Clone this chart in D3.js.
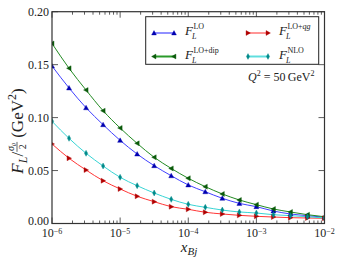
<!DOCTYPE html>
<html><head><meta charset="utf-8">
<script src="https://cdn.jsdelivr.net/npm/d3@7"></script>
<style>
body{margin:0;background:#fff;}
svg{display:block;font-family:"Liberation Serif","DejaVu Serif",serif;}
</style></head><body>
<svg id="c" width="344" height="258"></svg>
<script>
// x values: log10(x_Bj) every quarter decade from -6 to -2
const logX = [-6,-5.75,-5.5,-5.25,-5,-4.75,-4.5,-4.25,-4,-3.75,-3.5,-3.25,-3,-2.75,-2.5,-2.25,-2];
const fLO    = [0.1487,0.128,0.1093,0.0933,0.0785,0.0656,0.0546,0.0451,0.0364,0.0300,0.0238,0.0190,0.0159,0.0118,0.0090,0.0074,0.0059];
const fLOdip = [0.170,0.1466,0.126,0.1065,0.0902,0.0757,0.0625,0.052,0.0427,0.0348,0.0279,0.0222,0.0178,0.0137,0.0109,0.0083,0.0064];
const fLOqq  = [0.0751,0.0616,0.0505,0.0404,0.0326,0.0257,0.0206,0.0159,0.0134,0.0106,0.0090,0.0077,0.0068,0.0061,0.0055,0.0052,0.0049];
const fNLO   = [0.0965,0.0804,0.0663,0.0543,0.0436,0.0357,0.0288,0.0228,0.0181,0.0153,0.0127,0.0109,0.0099,0.0083,0.0074,0.0064,0.0052];
const yTicks = [0.00,0.05,0.10,0.15,0.20];
const xTickExps = [-6,-5,-4,-3,-2];

const svg = d3.select("#c");
const L=52, R=324.5, T=11.7, B=223.5;
const x = d3.scaleLog().domain([1e-6,1e-2]).range([L,R]);
const y = d3.scaleLinear().domain([0,0.2]).range([B,T]);

const series = [
  {v:fLO, line:"#4040ff", mk:"#0000b0", shape:"up", leg:"#9090ff", sup:"LO"},
  {v:fLOdip, line:"#228a22", mk:"#0a5a0a", shape:"left", leg:"#2a9a2a", sup:"LO+dip"},
  {v:fLOqq, line:"#ff3535", mk:"#b00000", shape:"right", leg:"#ff9595", sup:"LO+qq"},
  {v:fNLO, line:"#38d4d4", mk:"#008a8a", shape:"diamond", leg:"#60dede", sup:"NLO"}
];

function markerPath(shape, s){
  if(shape==="up") return `M0,${-s}L${s},${s*0.8}L${-s},${s*0.8}Z`;
  if(shape==="left") return `M${-s},0L${s*0.8},${-s}L${s*0.8},${s}Z`;
  if(shape==="right") return `M${s},0L${-s*0.8},${-s}L${-s*0.8},${s}Z`;
  return `M0,${-s*1.2}L${s*0.65},0L0,${s*1.2}L${-s*0.65},0Z`;
}

const plot = svg.append("g");
plot.append("defs").append("clipPath").attr("id","clip").append("rect")
  .attr("x",L).attr("y",T).attr("width",R-L).attr("height",B-T);

const line = d3.line().x((d,i)=>x(Math.pow(10,logX[i]))).y(d=>y(d)).curve(d3.curveMonotoneX);
const g = plot.append("g").attr("clip-path","url(#clip)");
series.forEach(s=>{
  g.append("path").attr("d",line(s.v)).attr("fill","none").attr("stroke",s.line).attr("stroke-width",1);
});
series.forEach(s=>{
  g.selectAll(null).data(s.v).enter().append("path")
    .attr("transform",(d,i)=>`translate(${x(Math.pow(10,logX[i]))},${y(d)})`)
    .attr("d",markerPath(s.shape,2.5))
    .attr("fill",s.mk).attr("stroke",s.mk).attr("stroke-width",0.4);
});

// axes frame
const axCol="#333";
plot.append("rect").attr("x",L).attr("y",T).attr("width",R-L).attr("height",B-T)
  .attr("fill","none").attr("stroke",axCol).attr("stroke-width",1.2);

// x ticks (major + minor), inward on bottom and top
const minor=[];
for(let e=-6;e<-2;e++) for(let k=2;k<=9;k++) minor.push(k*Math.pow(10,e));
const tk = svg.append("g").attr("stroke",axCol).attr("stroke-width",0.8);
xTickExps.forEach(e=>{
  const px=x(Math.pow(10,e));
  tk.append("line").attr("x1",px).attr("x2",px).attr("y1",B).attr("y2",B-6);
  tk.append("line").attr("x1",px).attr("x2",px).attr("y1",T).attr("y2",T+6);
});
minor.forEach(v=>{
  const px=x(v);
  tk.append("line").attr("x1",px).attr("x2",px).attr("y1",B).attr("y2",B-3);
  tk.append("line").attr("x1",px).attr("x2",px).attr("y1",T).attr("y2",T+3);
});
yTicks.forEach(v=>{
  const py=y(v);
  tk.append("line").attr("x1",L).attr("x2",L+6).attr("y1",py).attr("y2",py);
  tk.append("line").attr("x1",R).attr("x2",R-6).attr("y1",py).attr("y2",py);
});

// tick labels
const lab = svg.append("g").attr("fill","#222");
yTicks.forEach(v=>{
  lab.append("text").attr("x",L-3).attr("y",y(v)+ (v===0?1:4)).attr("text-anchor","end")
    .attr("font-size",12).text(v.toFixed(2));
});
xTickExps.forEach(e=>{
  const t=lab.append("text").attr("x",x(Math.pow(10,e))).attr("y",237).attr("text-anchor","middle").attr("font-size",12);
  t.append("tspan").text("10");
  t.append("tspan").attr("dy",-3.5).attr("font-size",8).text("\u2212"+(-e));
});

// axis labels
const xl = lab.append("text").attr("x",189).attr("y",251.5).attr("text-anchor","middle").attr("font-size",15);
xl.append("tspan").attr("font-style","italic").text("x");
xl.append("tspan").attr("font-style","italic").attr("font-size",11).attr("dy",3).text("Bj");

const yl = lab.append("g").attr("transform","translate(23,131) rotate(-90)");
const yt = yl.append("text").attr("text-anchor","middle").attr("font-size",17);
yt.append("tspan").attr("font-style","italic").text("F");
yt.append("tspan").attr("font-style","italic").attr("font-size",12).attr("dy",4).text("L");
yt.append("tspan").attr("dy",-4).text("/");
yt.append("tspan").attr("font-size",11).attr("fill","none").text("\u03c3\u2080");
yt.append("tspan").text(" (GeV");
yt.append("tspan").attr("font-size",12).attr("dy",-7).text("2");
yt.append("tspan").attr("dy",7).text(")");
const fr = yt.node().querySelectorAll("tspan")[3];
const bb = fr.getBBox();
const fx = bb.x + bb.width/2;
yl.append("text").attr("x",fx).attr("y",-9).attr("text-anchor","middle").attr("font-size",10).attr("font-style","italic").text("\u03c3\u2080");
yl.append("line").attr("x1",bb.x).attr("x2",bb.x+bb.width).attr("y1",-6).attr("y2",-6).attr("stroke","#222").attr("stroke-width",0.7);
yl.append("text").attr("x",fx).attr("y",2.5).attr("text-anchor","middle").attr("font-size",10).text("2");

// legend
const lg = svg.append("g");
lg.append("rect").attr("x",145.7).attr("y",16.7).attr("width",173).attr("height",47.6)
  .attr("fill","#fff").attr("stroke","#222").attr("stroke-width",1);
const pos = [[154,33],[154,56.5],[248,33],[248,56.5]];
series.forEach((s,i)=>{
  const [lx,ly]=pos[i];
  lg.append("line").attr("x1",lx).attr("x2",lx+20).attr("y1",ly).attr("y2",ly).attr("stroke",s.leg).attr("stroke-width",2);
  [lx,lx+20].forEach(px=>lg.append("path").attr("transform",`translate(${px},${ly})`).attr("d",markerPath(s.shape,2.4)).attr("fill",s.mk).attr("stroke",s.mk).attr("stroke-width",0.4));
  const t=lg.append("text").attr("x",lx+31).attr("y",ly+2).attr("font-size",13).attr("fill","#222");
  t.append("tspan").attr("font-style","italic").text("F");
  t.append("tspan").attr("font-style","italic").attr("font-size",8).attr("dx",-1).attr("dy",4).text("L");
  const sup = t.append("tspan").attr("font-size",8).attr("dx",-3).attr("dy",-10);
  if(s.sup==="LO+qq"){ sup.text("LO+"); t.append("tspan").attr("font-size",8).attr("font-style","italic").text("qg"); }
  else sup.text(s.sup);
});

// Q^2 annotation
const q = lab.append("text").attr("x",248).attr("y",81).attr("font-size",12);
q.append("tspan").attr("font-style","italic").text("Q");
q.append("tspan").attr("font-size",8).attr("dy",-5).text("2");
q.append("tspan").attr("dy",5).text(" = 50\u2009GeV");
q.append("tspan").attr("font-size",8).attr("dy",-5).text("2");
</script>
</body></html>
